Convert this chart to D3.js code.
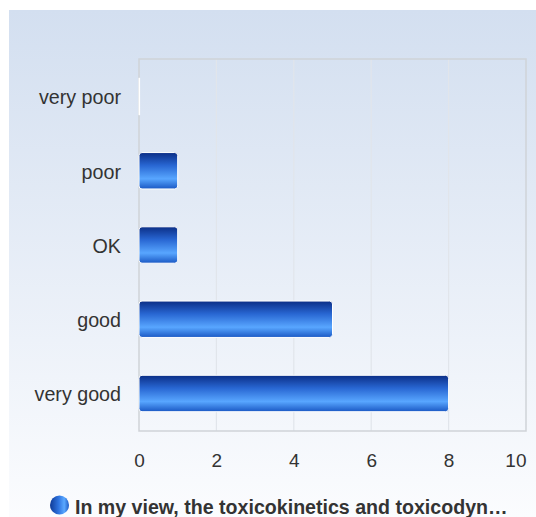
<!DOCTYPE html>
<html><head><meta charset="utf-8">
<script src="https://cdn.jsdelivr.net/npm/d3@7"></script>
<style>html,body{margin:0;padding:0;background:#fff;}svg{display:block;font-family:"Liberation Sans",Arial,sans-serif;}</style>
</head><body><svg id="c" width="536" height="517"></svg>
<script>
const categories = ["very poor","poor","OK","good","very good"];
const values = [0,1,1,5,8];
const xTicks = [0,2,4,6,8,10];
const seriesName = "In my view, the toxicokinetics and toxicodyn\u2026";

const svg = d3.select("#c");
const defs = svg.append("defs");
const bg = defs.append("linearGradient").attr("id","bg").attr("x1",0).attr("y1",0).attr("x2",0).attr("y2",1);
bg.append("stop").attr("offset","0%").attr("stop-color","#d3dff0");
bg.append("stop").attr("offset","100%").attr("stop-color","#fbfcfe");
const bar = defs.append("linearGradient").attr("id","bar").attr("x1",0).attr("y1",0).attr("x2",0).attr("y2",1);
[["0%","#0b2e86"],["35%","#2866d2"],["72%","#58a6ff"],["100%","#1a58c4"]].forEach(s=>bar.append("stop").attr("offset",s[0]).attr("stop-color",s[1]));
const leg = defs.append("linearGradient").attr("id","leg").attr("x1",0).attr("y1",0).attr("x2",1).attr("y2",0);
[["0%","#0f3a96"],["45%","#2f74e0"],["75%","#5aa8ff"],["100%","#1f5cc6"]].forEach(s=>leg.append("stop").attr("offset",s[0]).attr("stop-color",s[1]));

svg.append("rect").attr("x",9).attr("y",10).attr("width",527).attr("height",507).attr("fill","url(#bg)");

const m = {l:139,r:526,t:59,b:431};
const x = d3.scaleLinear().domain([0,10]).range([m.l,m.r]);
const y = d3.scaleBand().domain(categories).range([m.t,m.b]).paddingInner(0.51).paddingOuter(0.26);

// gridlines
svg.append("g").selectAll("line").data(xTicks.slice(1,-1)).join("line")
  .attr("x1",d=>x(d)).attr("x2",d=>x(d)).attr("y1",m.t).attr("y2",m.b)
  .attr("stroke","#e1e5eb").attr("stroke-width",1.2);
// plot border
svg.append("rect").attr("x",m.l).attr("y",m.t).attr("width",m.r-m.l).attr("height",m.b-m.t)
  .attr("fill","none").attr("stroke","#cfd3d8").attr("stroke-width",1.5);

// bars
svg.append("g").selectAll("rect").data(values).join("rect")
  .attr("x",x(0)).attr("y",(d,i)=>y(categories[i]))
  .attr("width",d=>Math.max(0.6,x(d)-x(0))).attr("height",y.bandwidth())
  .attr("rx",d=>d>0?3:0).attr("ry",d=>d>0?3:0)
  .attr("fill",d=>d>0?"url(#bar)":"#ffffff").attr("stroke","#ffffff").attr("stroke-width",1);

// category labels
svg.append("g").selectAll("text").data(categories).join("text")
  .attr("x",121).attr("y",d=>y(d)+y.bandwidth()/2).attr("dy","0.4em")
  .attr("text-anchor","end").attr("font-size",19.7).attr("fill","#333")
  .text(d=>d);

// x axis tick labels
const xa = d3.axisBottom(x).tickValues(xTicks).tickSize(0).tickPadding(0);
const g = svg.append("g").attr("transform",`translate(0,${453})`).call(xa);
g.select(".domain").remove();
g.selectAll("text").attr("font-size",19).attr("fill","#333").attr("font-family","Liberation Sans, Arial, sans-serif")
  .attr("text-anchor",d=>d===xTicks[xTicks.length-1]?"end":"middle");

// legend
svg.append("circle").attr("cx",59.5).attr("cy",505).attr("r",9.5).attr("fill","url(#leg)");
svg.append("text").attr("x",75).attr("y",514).attr("font-size",19.6).attr("font-weight","bold")
  .attr("fill","#333").text(seriesName);
</script></body></html>
